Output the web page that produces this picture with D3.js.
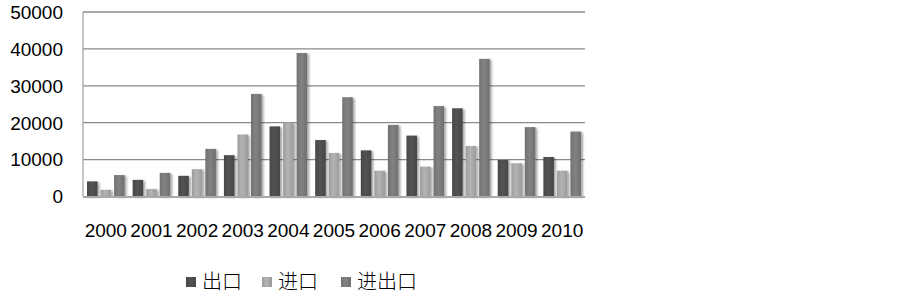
<!DOCTYPE html>
<html>
<head>
<meta charset="utf-8">
<script src="https://cdn.jsdelivr.net/npm/d3@7"></script>
<style>
  body { margin: 0; background: #fff; }
</style>
</head>
<body>
<div id="content"></div>
<script>
// Data-set.
var years = ['2000', '2001', '2002', '2003', '2004', '2005', '2006', '2007', '2008', '2009', '2010'];
var exportVals = [4100, 4500, 5600, 11200, 19000, 15300, 12500, 16500, 23900, 9900, 10700];
var importVals = [1800, 2000, 7400, 16800, 20000, 11800, 7000, 8100, 13700, 9000, 7000];
var totalVals = [5800, 6400, 12900, 27800, 38900, 26900, 19400, 24500, 37300, 18800, 17600];
var seriesNames = ['出口', '进口', '进出口'];
var yTicks = [0, 10000, 20000, 30000, 40000, 50000];

var seriesColors = ['#4f4f4f', '#ababab', '#7b7b7b'];
var allSeries = [exportVals, importVals, totalVals];

var svg = d3.select('#content')
              .append('svg')
              .attr('width', 903)
              .attr('height', 297);

var plotL = 83, plotR = 585, plotT = 12, plotB = 196.5;

var x = d3.scaleBand().domain(years).range([plotL, plotR]).paddingInner(0).paddingOuter(0);
var xs = d3.scaleBand().domain(d3.range(3)).range([4, x.bandwidth() - 4]).paddingInner(0.22);
var y = d3.scaleLinear().domain([0, 50000]).range([plotB, plotT]);

// Shadow and gradients.
var defs = svg.append('defs');
var f = defs.append('filter').attr('id', 'shadow').attr('x', '-30%').attr('y', '-10%')
            .attr('width', '180%').attr('height', '130%');
f.append('feGaussianBlur').attr('in', 'SourceAlpha').attr('stdDeviation', 1.2);
f.append('feOffset').attr('dx', 1.5).attr('dy', 0.5).attr('result', 'b');
f.append('feComponentTransfer').append('feFuncA').attr('type', 'linear').attr('slope', 0.35);
var m = f.append('feMerge');
m.append('feMergeNode');
m.append('feMergeNode').attr('in', 'SourceGraphic');

seriesColors.forEach(function(c, i) {
  var gr = defs.append('linearGradient').attr('id', 'grad' + i)
               .attr('x1', 0).attr('x2', 1).attr('y1', 0).attr('y2', 0);
  var base = d3.color(c);
  gr.append('stop').attr('offset', '0%').attr('stop-color', base.darker(0.25));
  gr.append('stop').attr('offset', '45%').attr('stop-color', base.brighter(0.15));
  gr.append('stop').attr('offset', '100%').attr('stop-color', base.darker(0.3));
});

// Gridlines.
svg.append('g').selectAll('line')
   .data(yTicks.slice(1))
   .enter().append('line')
   .attr('x1', plotL).attr('x2', plotR)
   .attr('y1', function(d) { return y(d); })
   .attr('y2', function(d) { return y(d); })
   .attr('stroke', '#8a8a8a').attr('stroke-width', 1.3);

// Left axis line.
svg.append('line').attr('x1', plotL).attr('x2', plotL).attr('y1', plotT).attr('y2', plotB)
   .attr('stroke', '#a0a0a0').attr('stroke-width', 1.2);

// Bars.
var groups = svg.append('g').selectAll('g')
   .data(years).enter().append('g')
   .attr('transform', function(d) { return 'translate(' + x(d) + ',0)'; });

groups.selectAll('rect')
   .data(function(d, i) { return allSeries.map(function(s, k) { return {k: k, v: s[i]}; }); })
   .enter().append('rect')
   .attr('x', function(d) { return xs(d.k); })
   .attr('width', xs.bandwidth())
   .attr('y', function(d) { return y(d.v); })
   .attr('height', function(d) { return plotB - y(d.v); })
   .attr('fill', function(d) { return 'url(#grad' + d.k + ')'; })
   .attr('filter', 'url(#shadow)');

// Bottom axis line.
svg.append('line').attr('x1', plotL).attr('x2', plotR).attr('y1', plotB + 0.5).attr('y2', plotB + 0.5)
   .attr('stroke', '#a8a8a8').attr('stroke-width', 1.8);

// Y labels.
svg.append('g').selectAll('text')
   .data(yTicks).enter().append('text')
   .attr('x', 63).attr('y', function(d) { return y(d); })
   .attr('dy', '0.36em')
   .attr('text-anchor', 'end')
   .attr('font-family', 'Liberation Sans, Arial, sans-serif')
   .attr('font-size', 19)
   .attr('fill', '#000')
   .text(function(d) { return d; });

// X labels.
svg.append('g').selectAll('text')
   .data(years).enter().append('text')
   .attr('x', function(d) { return x(d) + x.bandwidth() / 2; })
   .attr('y', 230).attr('dy', '0.36em')
   .attr('text-anchor', 'middle')
   .attr('font-family', 'Liberation Sans, Arial, sans-serif')
   .attr('font-size', 19)
   .attr('fill', '#000')
   .text(function(d) { return d; });

// Legend.
var legendX = [186, 262, 341];
var legend = svg.append('g').selectAll('g')
   .data(seriesNames).enter().append('g')
   .attr('transform', function(d, i) { return 'translate(' + legendX[i] + ',277)'; });
legend.append('rect').attr('width', 10).attr('height', 10)
   .attr('fill', function(d, i) { return 'url(#grad' + i + ')'; });
legend.append('text')
   .attr('x', 16).attr('y', 5).attr('dy', '0.36em')
   .attr('font-family', 'Noto Sans CJK SC, sans-serif')
   .attr('font-size', 20)
   .attr('font-weight', 300)
   .attr('fill', '#000')
   .text(function(d) { return d; });
</script>
</body>
</html>
